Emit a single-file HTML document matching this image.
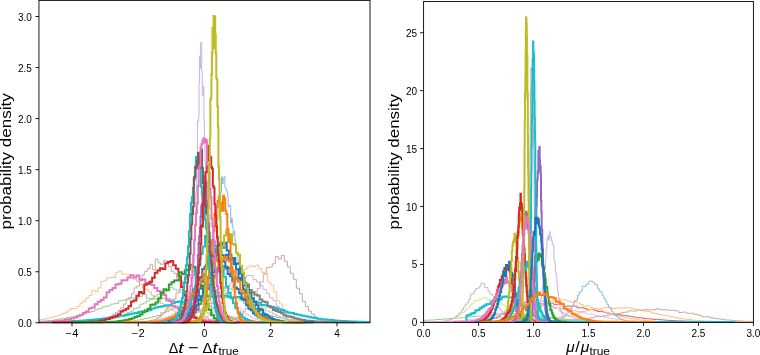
<!DOCTYPE html>
<html><head><meta charset="utf-8"><style>
html,body{margin:0;padding:0;background:#fff;width:760px;height:355px;overflow:hidden}
svg{display:block;will-change:transform}
.tk{font-family:"Liberation Sans",sans-serif;font-size:10px;fill:#000}
.lb{font-family:"Liberation Sans",sans-serif;font-size:14.5px;fill:#000}
</style></head><body>
<svg width="760" height="355" viewBox="0 0 760 355">
<rect width="760" height="355" fill="#fff"/>
<defs>
<clipPath id="cl"><rect x="38.95" y="0.40" width="331.05" height="327.40"/></clipPath>
<clipPath id="cr"><rect x="423.60" y="1.50" width="329.80" height="325.90"/></clipPath>
</defs>
<g clip-path="url(#cl)"><path d="M2.44 322.30V322.07H5.42V322.01H8.40V321.95H11.38V321.90H14.36V321.76H17.34V321.65H20.33V321.53H23.31V321.32H26.29V321.12H29.27V320.88H32.25V320.61H35.23V320.23H38.21V319.94H41.19V319.42H44.18V318.93H47.16V318.14H50.14V317.51H53.12V316.76H56.10V315.96H59.08V314.77H62.06V313.49H65.04V312.26H68.03V310.05H71.01V308.46H73.99V308.82H76.97V306.49H79.95V303.18H82.93V301.11H85.91V298.08H88.89V295.47H91.88V290.53H94.86V291.65H97.84V287.93H100.82V281.49H103.80V280.74H106.78V277.98H109.76V277.59H112.74V277.62H115.73V272.35H118.71V271.25H121.69V273.97H124.67V274.03H127.65V274.60H130.63V278.38H133.61V279.30H136.59V281.64H139.57V284.52H142.56V288.11H145.54V289.47H148.52V291.96H151.50V295.36H154.48V299.08H157.46V300.11H160.44V303.43H163.42V304.59H166.41V307.82H169.39V308.51H172.37V310.66H175.35V312.65H178.33V313.60H181.31V314.67H184.29V315.68H187.28V316.91H190.26V317.73H193.24V318.21H196.22V318.93H199.20V319.38H202.18V319.80H205.16V320.40H208.14V320.59H211.12V320.83H214.11V321.15H217.09V321.38H220.07V321.49H223.05V321.65H226.03V321.76H229.01V321.88H231.99V321.98H234.97V322.02H237.96V322.08H240.94V322.30" stroke="#ffbf86" stroke-width="1" fill="none" stroke-linejoin="miter"/>
<path d="M38.88 322.30V321.15H42.86V320.89H46.85V320.54H50.84V320.31H54.82V319.41H58.81V318.89H62.80V318.43H66.79V317.49H70.77V316.72H74.76V315.99H78.75V314.51H82.73V313.78H86.72V312.58H90.71V311.51H94.70V309.57H98.68V308.45H102.67V306.63H106.66V305.94H110.65V304.03H114.63V303.46H118.62V300.77H122.61V300.13H126.59V298.95H130.58V297.97H134.57V298.65H138.56V296.35H142.54V294.73H146.53V298.41H150.52V298.62H154.51V298.72H158.49V296.93H162.48V298.38H166.47V298.43H170.45V299.86H174.44V301.51H178.43V302.76H182.42V304.48H186.40V305.20H190.39V307.89H194.38V308.86H198.37V309.91H202.35V310.59H206.34V312.96H210.33V314.23H214.31V315.15H218.30V315.76H222.29V316.99H226.28V317.52H230.26V318.78H234.25V319.00H238.24V319.59H242.23V320.29H246.21V320.57H250.20V320.85H254.19V322.30" stroke="#96d096" stroke-width="1" fill="none" stroke-linejoin="miter"/>
<path d="M40.53 322.30H47.16V322.30H53.78V322.29H57.09V322.28H60.41V322.27H63.72V322.26H67.03V322.24H70.34V322.21H73.66V322.17H76.97V322.12H80.28V322.06H83.59V321.94H86.91V321.82H90.22V321.56H93.53V321.34H96.84V321.01H100.16V320.66H103.47V320.11H106.78V319.47H110.09V318.84H113.41V317.98H116.72V316.86H120.03V315.76H123.34V314.37H126.66V312.70H129.97V311.16H133.28V308.50H136.59V307.86H139.91V304.16H143.22V303.05H146.53V300.85H149.84V299.54H153.16V296.38H156.47V294.67H159.78V292.58H163.09V292.16H166.41V290.42H169.72V287.59H173.03V289.21H176.34V290.68H179.66V289.32H182.97V291.66H186.28V292.10H189.59V293.71H192.91V296.64H196.22V300.10H199.53V300.67H202.84V302.12H206.16V305.00H209.47V306.60H212.78V308.39H216.09V311.08H219.41V312.11H222.72V313.65H226.03V315.31H229.34V316.58H232.66V317.70H235.97V318.48H239.28V319.52H242.59V320.16H245.91V320.62H249.22V321.10H252.53V321.43H255.84V321.64H259.16V321.79H262.47V321.93H265.78V322.06H269.09V322.13H272.41V322.18H275.72V322.21H279.03V322.24H282.34V322.26H285.66V322.27H288.97V322.28H292.28V322.29H295.59V322.29H305.53V322.30H308.84V322.30" stroke="#96d096" stroke-width="1" fill="none" stroke-linejoin="miter"/>
<path d="M57.09 322.30H59.75V322.30H62.40V322.29H65.06V322.29H67.71V322.28H70.37V322.27H73.02V322.25H75.68V322.22H78.33V322.18H80.98V322.09H83.64V322.03H86.29V321.91H88.95V321.75H91.60V321.53H94.26V321.25H96.91V320.81H99.57V320.20H102.22V319.57H104.88V318.52H107.53V317.59H110.18V316.18H112.84V314.04H115.49V312.33H118.15V310.46H120.80V307.64H123.46V304.10H126.11V299.45H128.77V297.65H131.42V293.68H134.08V287.89H136.73V286.25H139.38V281.11H142.04V274.82H144.69V271.33H147.35V268.70H150.00V264.28H152.66V269.97H155.31V259.00H157.97V262.81H160.62V264.33H163.28V260.27H165.93V261.11H168.58V266.57H171.24V271.47H173.89V273.40H176.55V278.26H179.20V280.93H181.86V287.13H184.51V292.83H187.17V296.61H189.82V302.14H192.48V306.41H195.13V308.84H197.78V311.75H200.44V314.44H203.09V316.49H205.75V317.81H208.40V319.38H211.06V319.91H213.71V320.63H216.37V321.24H219.02V321.53H221.68V321.81H224.33V321.95H226.98V322.10H229.64V322.17H232.29V322.21H234.95V322.25H237.60V322.27H240.26V322.28H242.91V322.29H245.57V322.29H250.88V322.30" stroke="#c6aaa5" stroke-width="1" fill="none" stroke-linejoin="miter"/>
<path d="M115.06 322.30H121.64V322.29H128.22V322.29H131.50V322.28H134.79V322.27H138.08V322.25H141.37V322.23H144.66V322.18H147.94V322.13H151.23V322.04H154.52V321.95H157.81V321.80H161.10V321.66H164.38V321.29H167.67V321.14H170.96V320.55H174.25V320.11H177.54V319.51H180.83V318.68H184.11V317.69H187.40V316.26H190.69V314.94H193.98V312.70H197.27V312.12H200.55V309.15H203.84V307.30H207.13V303.56H210.42V303.09H213.71V298.70H216.99V295.11H220.28V294.07H223.57V288.00H226.86V286.20H230.15V282.29H233.44V279.96H236.72V281.27H240.01V279.53H243.30V277.51H246.59V275.33H249.88V275.44H253.16V279.69H256.45V282.01H259.74V285.68H263.03V289.37H266.32V293.33H269.61V297.75H272.89V300.36H276.18V306.43H279.47V309.86H282.76V312.60H286.05V315.56H289.33V317.36H292.62V318.80H295.91V319.86H299.20V320.82H302.49V321.24H305.77V321.68H309.06V321.92H312.35V322.07H315.64V322.17H318.93V322.22H322.22V322.26H325.50V322.28H328.79V322.29H332.08V322.29H338.66V322.30" stroke="#cab3de" stroke-width="1" fill="none" stroke-linejoin="miter"/>
<path d="M151.50 322.30H154.48V322.29H157.46V322.29H160.44V322.28H163.43V322.27H166.41V322.26H169.39V322.23H172.37V322.19H175.35V322.12H178.33V322.01H181.31V321.89H184.29V321.72H187.28V321.45H190.26V320.94H193.24V320.48H196.22V319.96H199.20V318.87H202.18V317.88H205.16V316.31H208.14V314.45H211.12V312.33H214.11V309.08H217.09V306.31H220.07V303.21H223.05V298.46H226.03V293.72H229.01V292.31H231.99V286.03H234.97V282.78H237.96V277.19H240.94V275.50H243.92V269.54H246.90V266.99H249.88V265.74H252.86V266.53H255.84V265.12H258.82V268.51H261.81V272.44H264.79V274.04H267.77V282.15H270.75V284.89H273.73V292.04H276.71V300.72H279.69V304.01H282.68V309.38H285.66V312.51H288.64V315.44H291.62V318.03H294.60V319.28H297.58V320.38H300.56V321.06H303.54V321.62H306.52V321.88H309.51V322.08H312.49V322.18H315.47V322.24H318.45V322.27H321.43V322.28H324.41V322.29H327.39V322.30H330.38V322.30" stroke="#ffbf86" stroke-width="1" fill="none" stroke-linejoin="miter"/>
<path d="M197.05 322.30H200.06V322.29H203.07V322.29H206.08V322.27H209.09V322.24H212.10V322.19H215.11V322.11H218.12V321.96H221.13V321.75H224.14V321.39H227.15V320.86H230.16V320.17H233.17V319.04H236.18V317.24H239.19V315.31H242.20V311.80H245.21V308.02H248.22V303.06H251.23V299.22H254.24V291.77H257.25V288.33H260.26V281.88H263.27V273.93H266.27V267.57H269.28V266.96H272.29V263.80H275.30V256.37H278.31V259.14H281.32V255.42H284.33V261.16H287.34V266.69H290.35V273.37H293.36V279.36H296.37V288.23H299.38V293.69H302.39V301.53H305.40V306.56H308.41V311.11H311.42V314.04H314.43V316.82H317.44V318.84H320.45V319.84H323.46V320.92H326.47V321.47H329.48V321.81H332.49V322.02H335.50V322.16H338.51V322.22H341.52V322.26H344.53V322.28H347.54V322.29H350.55V322.30H353.56V322.30" stroke="#c6aaa5" stroke-width="1" fill="none" stroke-linejoin="miter"/>
<path d="M193.24 322.30V321.67H194.07V321.48H194.90V321.29H195.73V321.05H196.56V320.70H197.40V320.33H198.23V319.74H199.06V318.95H199.89V318.45H200.72V317.58H201.55V316.25H202.39V314.96H203.22V313.48H204.05V312.08H204.88V309.56H205.71V306.62H206.54V305.13H207.37V301.21H208.21V298.94H209.04V294.24H209.87V290.40H210.70V282.83H211.53V278.79H212.36V269.34H213.20V262.42H214.03V255.65H214.86V254.61H215.69V240.34H216.52V229.95H217.35V220.43H218.19V218.81H219.02V205.81H219.85V200.54H220.68V192.86H221.51V176.92H222.34V183.82H223.18V179.48H224.01V176.30H224.84V187.37H225.67V188.27H226.50V191.13H227.33V195.83H228.17V206.88H229.00V205.59H229.83V205.10H230.66V223.01H231.49V218.38H232.32V226.77H233.15V234.89H233.99V231.13H234.82V240.67H235.65V251.72H236.48V252.89H237.31V256.38H238.14V262.91H238.98V265.33H239.81V271.18H240.64V273.77H241.47V276.30H242.30V283.45H243.13V285.42H243.97V289.48H244.80V291.64H245.63V295.86H246.46V297.67H247.29V299.62H248.12V300.87H248.96V302.77H249.79V306.36H250.62V307.65H251.45V308.36H252.28V311.10H253.11V311.61H253.95V312.62H254.78V313.20H255.61V314.38H256.44V315.55H257.27V316.33H258.10V316.99H258.93V317.27H259.77V318.20H260.60V318.67H261.43V319.02H262.26V319.48H263.09V319.84H263.92V320.23H264.76V320.41H265.59V320.68H266.42V320.80H267.25V321.02H268.08V321.22H268.91V321.34H269.75V321.50H270.58V321.57H271.41V321.70H272.24V322.30" stroke="#8fbbda" stroke-width="1" fill="none" stroke-linejoin="miter"/>
<path d="M181.81 322.30V322.29H182.35V322.28H182.89V322.26H183.42V322.23H183.96V322.20H184.50V322.12H185.04V322.02H185.58V321.82H186.12V321.56H186.65V321.15H187.19V320.61H187.73V319.88H188.27V318.65H188.81V316.94H189.35V315.36H189.88V312.16H190.42V308.80H190.96V303.05H191.50V298.99H192.04V291.23H192.57V281.33H193.11V270.72H193.65V262.93H194.19V243.33H194.73V228.84H195.27V211.86H195.80V192.74H196.34V170.93H196.88V164.62H197.42V120.83H197.96V121.15H198.50V117.24H199.03V83.30H199.57V56.36H200.11V68.41H200.65V42.61H201.19V42.55H201.73V71.98H202.26V95.79H202.80V94.36H203.34V86.34H203.88V120.78H204.42V144.08H204.96V161.36H205.49V172.24H206.03V192.07H206.57V206.90H207.11V224.68H207.65V247.36H208.19V259.16H208.72V273.56H209.26V281.80H209.80V292.29H210.34V299.34H210.88V302.55H211.41V308.75H211.95V312.15H212.49V314.45H213.03V317.09H213.57V318.79H214.11V319.87H214.64V320.71H215.18V321.16H215.72V321.59H216.26V321.80H216.80V322.01H217.34V322.12H217.87V322.19H218.41V322.23H218.95V322.26H219.49V322.27H220.03V322.29H220.57V322.30" stroke="#cab3de" stroke-width="1" fill="none" stroke-linejoin="miter"/>
<path d="M65.38 322.30H73.66V322.30H81.94V322.29H86.08V322.28H90.22V322.27H94.36V322.25H98.50V322.22H102.64V322.18H106.78V322.13H110.92V322.01H115.06V321.90H119.20V321.67H123.34V321.46H127.48V321.16H131.62V320.80H135.77V320.11H139.91V319.61H144.05V318.50H148.19V317.78H152.33V316.45H156.47V315.51H160.61V312.61H164.75V311.66H168.89V309.81H173.03V306.98H177.17V305.83H181.31V302.36H185.45V301.73H189.59V298.08H193.73V297.74H197.88V297.02H202.02V294.38H206.16V294.53H210.30V291.67H214.44V292.31H218.58V292.20H222.72V293.60H226.86V295.40H231.00V296.64H235.14V297.60H239.28V300.87H243.42V303.54H247.56V305.89H251.70V307.60H255.84V309.99H259.98V310.81H264.12V313.86H268.27V315.38H272.41V316.56H276.55V317.58H280.69V318.76H284.83V319.66H288.97V320.30H293.11V320.78H297.25V321.13H301.39V321.52H305.53V321.73H309.67V321.91H313.81V322.02H317.95V322.11H322.09V322.18H326.23V322.21H330.38V322.25H334.52V322.27H338.66V322.28H342.80V322.29H346.94V322.29H355.22V322.30H363.50V322.30" stroke="#96d096" stroke-width="1" fill="none" stroke-linejoin="miter"/>
<path d="M90.22 322.30H97.67V322.29H105.12V322.29H108.85V322.28H112.58V322.26H116.30V322.24H120.03V322.21H123.76V322.16H127.48V322.10H131.21V322.00H134.94V321.86H138.66V321.66H142.39V321.42H146.12V321.09H149.84V320.55H153.57V320.15H157.30V319.24H161.02V318.21H164.75V317.34H168.48V316.07H172.20V314.43H175.93V312.09H179.66V310.36H183.38V309.11H187.11V305.92H190.84V302.34H194.56V299.71H198.29V297.45H202.02V295.93H205.74V295.63H209.47V291.45H213.20V290.41H216.92V289.06H220.65V286.56H224.38V288.39H228.10V288.80H231.83V289.41H235.55V291.97H239.28V294.28H243.01V296.46H246.73V297.31H250.46V300.13H254.19V303.50H257.91V304.87H261.64V307.94H265.37V310.94H269.09V312.11H272.82V314.22H276.55V316.12H280.27V317.03H284.00V318.34H287.73V319.27H291.45V319.92H295.18V320.72H298.91V321.10H302.63V321.40H306.36V321.65H310.09V321.86H313.81V322.00H317.54V322.10H321.27V322.16H324.99V322.21H328.72V322.24H332.45V322.27H336.17V322.28H339.90V322.29H343.62V322.29H351.08V322.30H358.53V322.30" stroke="#bfbfbf" stroke-width="1" fill="none" stroke-linejoin="miter"/>
<path d="M121.69 322.30H126.66V322.29H131.62V322.28H134.11V322.27H136.59V322.25H139.08V322.23H141.56V322.19H144.05V322.15H146.53V322.04H149.02V321.93H151.50V321.75H153.98V321.54H156.47V321.24H158.95V320.78H161.44V320.19H163.92V319.57H166.41V318.68H168.89V317.41H171.38V316.41H173.86V315.05H176.34V312.54H178.83V310.84H181.31V309.19H183.80V305.99H186.28V302.96H188.77V300.69H191.25V298.12H193.73V293.58H196.22V289.67H198.70V288.56H201.19V287.12H203.67V283.72H206.16V281.97H208.64V282.96H211.12V281.61H213.61V281.46H216.09V284.62H218.58V287.22H221.06V287.76H223.55V290.49H226.03V292.36H228.52V297.91H231.00V300.21H233.48V303.25H235.97V306.61H238.45V308.03H240.94V310.28H243.42V312.98H245.91V314.15H248.39V315.99H250.88V317.42H253.36V318.59H255.84V319.44H258.33V320.36H260.81V320.77H263.30V321.20H265.78V321.59H268.27V321.76H270.75V321.94H273.23V322.04H275.72V322.14H278.20V322.19H280.69V322.23H283.17V322.26H285.66V322.27H288.14V322.28H290.62V322.29H293.11V322.29H300.56V322.30" stroke="#f1bbe0" stroke-width="1" fill="none" stroke-linejoin="miter"/>
<path d="M120.03 322.30H124.17V322.29H126.24V322.29H128.31V322.28H130.38V322.27H132.45V322.24H134.52V322.21H136.59V322.17H138.66V322.09H140.73V321.99H142.80V321.86H144.88V321.65H146.95V321.33H149.02V320.94H151.09V320.50H153.16V319.82H155.23V319.16H157.30V317.51H159.37V316.50H161.44V314.39H163.51V312.64H165.58V309.56H167.65V306.93H169.72V304.61H171.79V300.33H173.86V298.97H175.93V292.98H178.00V292.54H180.07V286.53H182.14V281.89H184.21V280.02H186.28V278.35H188.35V277.06H190.42V274.73H192.49V271.25H194.56V271.56H196.63V274.58H198.70V277.88H200.77V276.49H202.84V282.83H204.91V284.37H206.98V288.05H209.05V289.73H211.12V294.12H213.20V297.60H215.27V301.33H217.34V305.31H219.41V307.51H221.48V309.81H223.55V312.82H225.62V314.60H227.69V316.48H229.76V317.63H231.83V318.82H233.90V319.70H235.97V320.43H238.04V320.89H240.11V321.37H242.18V321.65H244.25V321.86H246.32V321.99H248.39V322.10H250.46V322.17H252.53V322.21H254.60V322.24H256.67V322.26H258.74V322.28H260.81V322.29H262.88V322.29H267.02V322.30H269.09V322.30" stroke="#ea9394" stroke-width="1" fill="none" stroke-linejoin="miter"/>
<path d="M38.88 322.30V322.04H42.19V321.98H45.50V321.92H48.81V321.86H52.12V321.79H55.44V321.71H58.75V321.62H62.06V321.51H65.38V321.39H68.69V321.21H72.00V321.08H75.31V320.89H78.62V320.72H81.94V320.52H85.25V320.28H88.56V320.00H91.88V319.63H95.19V319.33H98.50V319.00H101.81V318.60H105.12V318.27H108.44V317.58H111.75V317.33H115.06V316.67H118.38V315.85H121.69V315.86H125.00V315.08H128.31V314.32H131.62V313.48H134.94V313.09H138.25V312.05H141.56V311.22H144.88V310.35H148.19V310.17H151.50V308.53H154.81V307.38H158.12V306.83H161.44V306.32H164.75V305.42H168.06V305.30H171.38V303.32H174.69V302.08H178.00V301.60H181.31V302.36H184.62V300.55H187.94V299.72H191.25V299.26H194.56V297.96H197.88V298.79H201.19V297.84H204.50V296.79H207.81V296.27H211.12V296.46H214.44V295.84H217.75V296.03H221.06V296.86H224.38V295.75H227.69V296.91H231.00V297.82H234.31V297.22H237.62V297.10H240.94V298.17H244.25V298.89H247.56V300.07H250.88V302.07H254.19V301.67H257.50V302.85H260.81V304.89H264.12V305.18H267.44V306.29H270.75V306.73H274.06V308.06H277.38V309.05H280.69V310.09H284.00V311.43H287.31V312.48H290.62V312.98H293.94V313.91H297.25V314.68H300.56V315.47H303.88V316.23H307.19V316.78H310.50V317.44H313.81V318.08H317.12V318.68H320.44V319.18H323.75V319.52H327.06V319.82H330.38V320.11H333.69V320.47H337.00V320.70H340.31V320.92H343.62V321.10H346.94V321.33H350.25V321.46H353.56V321.62H356.88V321.75H360.19V321.85H363.50V321.91H366.81V321.98H370.12V322.30" stroke="#17becf" stroke-width="2" fill="none" stroke-linejoin="miter"/>
<path d="M8.23 322.30H14.20V322.29H17.18V322.29H20.16V322.29H23.14V322.28H26.12V322.27H29.10V322.25H32.08V322.23H35.07V322.20H38.05V322.15H41.03V322.09H44.01V322.03H46.99V321.92H49.97V321.70H52.95V321.51H55.93V321.18H58.92V320.87H61.90V320.57H64.88V319.84H67.86V319.21H70.84V318.43H73.82V317.63H76.80V316.29H79.78V314.95H82.77V312.99H85.75V311.43H88.73V308.61H91.71V307.62H94.69V304.35H97.67V301.63H100.65V300.04H103.63V297.59H106.62V292.27H109.60V289.90H112.58V288.00H115.56V284.58H118.54V283.87H121.52V280.36H124.50V280.14H127.48V277.53H130.47V275.33H133.45V277.48H136.43V275.58H139.41V279.71H142.39V279.60H145.37V283.03H148.35V282.96H151.33V285.05H154.32V288.05H157.30V290.90H160.28V291.90H163.26V294.88H166.24V300.36H169.22V301.08H172.20V305.89H175.18V307.60H178.17V309.52H181.15V311.43H184.13V313.68H187.11V315.12H190.09V316.28H193.07V317.61H196.05V318.56H199.03V319.21H202.02V319.87H205.00V320.50H207.98V320.93H210.96V321.27H213.94V321.55H216.92V321.75H219.90V321.91H222.88V322.00H225.87V322.09H228.85V322.15H231.83V322.20H234.81V322.23H237.79V322.25H240.77V322.27H243.75V322.28H246.73V322.29H249.72V322.29H255.68V322.30H261.64V322.30" stroke="#e377c2" stroke-width="2" fill="none" stroke-linejoin="miter"/>
<path d="M52.12 322.30H54.76V322.30H60.02V322.29H62.65V322.28H65.28V322.28H67.92V322.26H70.55V322.25H73.18V322.23H75.81V322.20H78.44V322.15H81.08V322.09H83.71V321.99H86.34V321.90H88.97V321.74H91.60V321.60H94.24V321.38H96.87V321.13H99.50V320.73H102.13V320.19H104.76V319.53H107.39V318.99H110.03V317.77H112.66V316.85H115.29V315.72H117.92V314.30H120.55V311.51H123.19V310.27H125.82V308.63H128.45V306.28H131.08V301.51H133.71V300.51H136.35V295.66H138.98V291.95H141.61V293.18H144.24V284.83H146.87V283.66H149.50V281.84H152.14V277.84H154.77V272.84H157.40V270.56H160.03V268.21H162.66V268.94H165.30V263.21H167.93V261.93H170.56V261.04H173.19V265.27H175.82V268.82H178.46V276.20H181.09V286.99H183.72V295.21H186.35V303.05H188.98V309.25H191.61V313.84H194.25V317.70H196.88V319.52H199.51V320.75H202.14V321.60H204.77V321.95H207.41V322.12H210.04V322.23H212.67V322.27H215.30V322.29H217.93V322.30H220.57V322.30" stroke="#d62728" stroke-width="2" fill="none" stroke-linejoin="miter"/>
<path d="M73.66 322.30H76.30V322.30H81.59V322.29H84.23V322.29H86.88V322.28H89.52V322.27H92.17V322.25H94.81V322.23H97.46V322.20H100.10V322.16H102.75V322.11H105.39V322.03H108.04V321.91H110.68V321.81H113.33V321.63H115.97V321.42H118.62V321.12H121.26V320.74H123.90V320.24H126.55V319.71H129.19V319.01H131.84V318.21H134.48V317.05H137.13V316.20H139.77V314.40H142.42V312.27H145.06V311.24H147.71V308.79H150.35V304.63H153.00V304.57H155.64V302.44H158.29V298.52H160.93V293.03H163.57V289.34H166.22V290.23H168.86V284.56H171.51V282.30H174.15V280.39H176.80V280.24H179.44V272.35H182.09V274.05H184.73V270.15H187.38V269.51H190.02V265.12H192.67V266.83H195.31V274.92H197.96V279.37H200.60V285.53H203.24V296.96H205.89V303.69H208.53V309.74H211.18V315.17H213.82V318.16H216.47V320.14H219.11V321.14H221.76V321.78H224.40V322.06H227.05V322.21H229.69V322.27H232.34V322.29H234.98V322.30H237.62V322.30" stroke="#2ca02c" stroke-width="2" fill="none" stroke-linejoin="miter"/>
<path d="M161.44 322.30V322.26H164.09V322.23H166.75V322.18H169.40V322.09H172.06V321.94H174.71V321.72H177.36V321.34H180.02V320.91H182.67V319.97H185.33V319.11H187.98V317.48H190.64V315.15H193.29V312.49H195.95V309.74H198.60V304.09H201.26V300.18H203.91V296.13H206.56V289.21H209.22V284.65H211.87V276.97H214.53V275.60H217.18V268.50H219.84V271.97H222.49V266.14H225.15V268.80H227.80V267.85H230.46V273.69H233.11V278.20H235.76V278.83H238.42V279.06H241.07V277.87H243.73V282.79H246.38V284.41H249.04V290.11H251.69V292.22H254.35V294.51H257.00V295.44H259.66V299.57H262.31V301.59H264.96V302.29H267.62V306.13H270.27V307.45H272.93V309.88H275.58V310.88H278.24V311.90H280.89V313.13H283.55V315.15H286.20V316.44H288.86V316.59H291.51V317.22H294.16V318.37H296.82V318.85H299.47V319.43H302.13V320.11H304.78V320.51H307.44V320.65H310.09V320.91H312.75V321.25H315.40V321.39H318.06V321.58H320.71V321.72H323.36V321.84H326.02V321.89H328.67V321.99H331.33V322.05H333.98V322.11H336.64V322.14H339.29V322.18H341.95V322.20H344.60V322.23H347.26V322.24H349.91V322.26H352.56V322.26H355.22V322.30" stroke="#7f7f7f" stroke-width="2" fill="none" stroke-linejoin="miter"/>
<path d="M152.33 322.30V322.30H154.65V322.29H156.98V322.28H159.31V322.27H161.63V322.24H163.96V322.19H166.29V322.11H168.61V322.00H170.94V321.74H173.26V321.41H175.59V321.00H177.92V320.28H180.24V319.13H182.57V317.85H184.90V315.79H187.22V312.83H189.55V309.36H191.87V306.17H194.20V301.24H196.53V295.64H198.85V288.52H201.18V281.27H203.51V274.74H205.83V264.88H208.16V259.52H210.49V253.48H212.81V254.40H215.14V249.50H217.46V245.83H219.79V242.66H222.12V247.80H224.44V242.87H226.77V250.50H229.10V254.46H231.42V259.75H233.75V264.31H236.07V269.21H238.40V277.88H240.73V280.10H243.05V289.15H245.38V292.65H247.71V298.20H250.03V302.40H252.36V305.58H254.68V309.16H257.01V311.35H259.34V314.47H261.66V316.05H263.99V317.57H266.32V318.57H268.64V319.61H270.97V320.43H273.29V320.91H275.62V321.36H277.95V321.69H280.27V321.87H282.60V322.00H284.93V322.11H287.25V322.17H289.58V322.22H291.90V322.25H294.23V322.27H296.56V322.28H298.88V322.29H301.21V322.29H305.86V322.30" stroke="#1f77b4" stroke-width="2" fill="none" stroke-linejoin="miter"/>
<path d="M149.84 322.30H152.15V322.29H154.46V322.29H156.77V322.28H159.08V322.26H161.39V322.24H163.70V322.19H166.01V322.13H168.32V322.00H170.63V321.84H172.94V321.62H175.25V321.24H177.56V320.69H179.87V320.05H182.18V319.28H184.49V317.89H186.79V316.34H189.10V314.66H191.41V312.41H193.72V308.27H196.03V305.34H198.34V299.89H200.65V296.25H202.96V289.04H205.27V283.11H207.58V278.03H209.89V275.40H212.20V272.18H214.51V257.92H216.82V259.24H219.13V250.83H221.44V255.23H223.75V257.43H226.05V254.87H228.36V259.69H230.67V258.70H232.98V257.96H235.29V263.63H237.60V263.38H239.91V273.72H242.22V278.57H244.53V285.35H246.84V289.94H249.15V292.90H251.46V298.36H253.77V301.66H256.08V305.14H258.39V308.72H260.70V309.71H263.01V313.83H265.31V315.03H267.62V316.46H269.93V317.80H272.24V319.10H274.55V319.98H276.86V320.34H279.17V320.89H281.48V321.37H283.79V321.64H286.10V321.84H288.41V322.00H290.72V322.09H293.03V322.15H295.34V322.20H297.65V322.24H299.96V322.26H302.27V322.28H304.57V322.29H306.88V322.29H311.50V322.30H313.81V322.30" stroke="#1f77b4" stroke-width="2" fill="none" stroke-linejoin="miter"/>
<path d="M139.91 322.30H142.22V322.29H144.53V322.29H146.83V322.28H149.14V322.26H151.45V322.24H153.76V322.21H156.07V322.14H158.38V322.02H160.69V321.85H163.00V321.68H165.31V321.26H167.62V320.76H169.93V320.15H172.24V319.40H174.55V318.12H176.86V316.50H179.17V314.16H181.48V311.46H183.79V309.29H186.09V305.18H188.40V300.93H190.71V296.35H193.02V289.82H195.33V285.94H197.64V280.08H199.95V277.31H202.26V269.00H204.57V266.88H206.88V256.31H209.19V257.78H211.50V256.07H213.81V255.94H216.12V259.91H218.43V259.46H220.74V260.39H223.05V261.55H225.35V266.83H227.66V274.10H229.97V276.22H232.28V280.66H234.59V287.59H236.90V288.96H239.21V293.20H241.52V299.08H243.83V300.23H246.14V305.22H248.45V308.80H250.76V310.25H253.07V313.59H255.38V315.24H257.69V317.24H260.00V318.31H262.31V318.92H264.61V320.04H266.92V320.63H269.23V321.06H271.54V321.43H273.85V321.70H276.16V321.87H278.47V322.00H280.78V322.08H283.09V322.16H285.40V322.20H287.71V322.24H290.02V322.26H292.33V322.28H294.64V322.28H296.95V322.29H299.26V322.29H303.88V322.30" stroke="#1f77b4" stroke-width="2" fill="none" stroke-linejoin="miter"/>
<path d="M163.09 322.30V322.29H165.42V322.28H167.75V322.26H170.08V322.20H172.41V322.06H174.74V321.80H177.07V321.25H179.40V320.28H181.73V318.71H184.06V315.73H186.38V311.17H188.71V305.24H191.04V297.64H193.37V288.59H195.70V272.08H198.03V264.77H200.36V253.74H202.69V246.59H205.02V235.88H207.35V235.52H209.68V240.12H212.00V241.78H214.33V245.97H216.66V254.38H218.99V263.42H221.32V269.62H223.65V276.78H225.98V286.45H228.31V292.91H230.64V298.05H232.97V303.33H235.30V308.23H237.62V312.21H239.95V314.84H242.28V317.42H244.61V318.94H246.94V320.08H249.27V320.80H251.60V321.41H253.93V321.75H256.26V321.94H258.59V322.10H260.92V322.19H263.25V322.23H265.57V322.26H267.90V322.28H270.23V322.29H272.56V322.30H274.89V322.30" stroke="#17becf" stroke-width="2" fill="none" stroke-linejoin="miter"/>
<path d="M124.17 322.30H126.49V322.29H131.14V322.29H133.46V322.28H135.79V322.27H138.11V322.25H140.43V322.23H142.76V322.19H145.08V322.15H147.40V322.07H149.73V321.98H152.05V321.83H154.37V321.70H156.69V321.36H159.02V321.14H161.34V320.73H163.66V320.12H165.99V319.20H168.31V318.62H170.63V317.51H172.96V316.80H175.28V314.42H177.60V312.97H179.93V310.37H182.25V307.21H184.57V306.49H186.89V302.47H189.22V297.57H191.54V293.43H193.86V290.50H196.19V288.21H198.51V283.85H200.83V279.64H203.16V273.77H205.48V269.26H207.80V266.32H210.12V263.22H212.45V260.11H214.77V261.03H217.09V257.68H219.42V262.45H221.74V259.72H224.06V256.96H226.39V260.01H228.71V261.42H231.03V271.74H233.36V271.21H235.68V279.44H238.00V281.48H240.32V290.39H242.65V293.36H244.97V297.42H247.29V302.70H249.62V305.81H251.94V307.36H254.26V310.86H256.59V313.60H258.91V315.83H261.23V317.43H263.55V318.68H265.88V319.33H268.20V320.32H270.52V320.89H272.85V321.36H275.17V321.64H277.49V321.85H279.82V322.01H282.14V322.11H284.46V322.18H286.79V322.22H289.11V322.25H291.43V322.27H293.75V322.28H296.08V322.29H298.40V322.29H303.05V322.30" stroke="#ff7f0e" stroke-width="2" fill="none" stroke-linejoin="miter"/>
<path d="M176.18 322.30V322.29H178.17V322.29H180.17V322.28H182.17V322.26H184.16V322.21H186.16V322.14H188.16V322.01H190.15V321.76H192.15V321.43H194.15V320.90H196.14V319.97H198.14V318.76H200.13V317.06H202.13V314.01H204.13V310.15H206.12V307.11H208.12V299.83H210.12V292.55H212.11V284.56H214.11V278.35H216.11V267.45H218.10V258.11H220.10V247.93H222.09V246.21H224.09V235.53H226.09V230.41H228.08V241.65H230.08V234.47H232.08V243.96H234.07V244.66H236.07V252.64H238.07V254.92H240.06V266.05H242.06V272.75H244.05V283.81H246.05V288.85H248.05V294.55H250.04V302.37H252.04V306.21H254.04V310.37H256.03V313.78H258.03V316.51H260.03V318.00H262.02V319.43H264.02V320.32H266.01V321.00H268.01V321.45H270.01V321.82H272.00V321.99H274.00V322.11H276.00V322.19H277.99V322.24H279.99V322.27H281.99V322.28H283.98V322.29H285.98V322.30H287.98V322.30" stroke="#bcbd22" stroke-width="2" fill="none" stroke-linejoin="miter"/>
<path d="M177.01 322.30H188.78V322.29H189.85V322.28H190.92V322.27H191.99V322.23H193.06V322.16H194.13V322.04H195.20V321.83H196.27V321.44H197.34V320.86H198.41V319.95H199.48V318.57H200.55V316.18H201.62V314.15H202.69V310.73H203.76V307.74H204.83V302.24H205.90V291.64H206.97V282.39H208.04V276.81H209.11V268.29H210.18V256.74H211.25V254.15H212.32V240.10H213.39V230.68H214.46V213.96H215.53V218.34H216.60V206.86H217.67V201.04H218.74V196.60H219.81V202.51H220.88V203.35H221.95V210.76H223.02V195.70H224.09V198.36H225.16V210.75H226.24V214.04H227.31V228.91H228.38V234.04H229.45V242.02H230.52V257.13H231.59V267.22H232.66V276.37H233.73V287.41H234.80V297.44H235.87V302.74H236.94V308.63H238.01V313.44H239.08V316.70H240.15V318.84H241.22V320.25H242.29V321.24H243.36V321.67H244.43V322.00H245.50V322.15H246.57V322.23H247.64V322.27H248.71V322.29H249.78V322.29H251.92V322.30H260.48V322.30" stroke="#ff7f0e" stroke-width="2" fill="none" stroke-linejoin="miter"/>
<path d="M180.65 322.30V322.29H181.31V322.29H181.97V322.28H182.64V322.26H183.30V322.24H183.96V322.20H184.62V322.15H185.29V322.05H185.95V321.93H186.61V321.71H187.28V321.45H187.94V321.02H188.60V320.44H189.26V319.67H189.93V318.51H190.59V317.10H191.25V314.94H191.91V312.18H192.57V309.85H193.24V306.12H193.90V301.03H194.56V297.60H195.22V288.97H195.89V282.80H196.55V275.24H197.21V268.16H197.88V255.35H198.54V242.95H199.20V236.04H199.86V227.58H200.53V216.77H201.19V206.27H201.85V203.79H202.51V194.85H203.18V193.72H203.84V186.51H204.50V176.30H205.16V187.05H205.82V181.70H206.49V201.48H207.15V210.87H207.81V215.56H208.47V223.66H209.14V232.86H209.80V243.33H210.46V255.59H211.12V262.46H211.79V273.81H212.45V280.83H213.11V288.78H213.78V295.58H214.44V301.19H215.10V306.47H215.76V309.53H216.43V312.65H217.09V315.42H217.75V316.65H218.41V318.58H219.07V319.81H219.74V320.59H220.40V321.09H221.06V321.52H221.72V321.72H222.39V321.94H223.05V322.06H223.71V322.16H224.38V322.20H225.04V322.24H225.70V322.26H226.36V322.28H227.03V322.29H227.69V322.29H228.35V322.30" stroke="#9467bd" stroke-width="2" fill="none" stroke-linejoin="miter"/>
<path d="M162.10 322.30V322.29H163.09V322.28H164.09V322.27H165.08V322.26H166.07V322.23H167.07V322.19H168.06V322.11H169.06V322.01H170.05V321.84H171.04V321.65H172.04V321.22H173.03V320.74H174.03V320.18H175.02V319.11H176.01V317.84H177.01V316.64H178.00V313.78H178.99V311.37H179.99V307.62H180.98V303.43H181.97V297.89H182.97V290.82H183.96V283.08H184.96V277.42H185.95V265.18H186.94V257.42H187.94V246.21H188.93V231.31H189.93V214.17H190.92V202.72H191.91V197.30H192.91V187.73H193.90V179.74H194.89V166.90H195.89V156.90H196.88V160.25H197.88V155.88H198.87V160.86H199.86V158.48H200.86V186.69H201.85V195.60H202.84V195.22H203.84V202.69H204.83V219.46H205.82V228.46H206.82V245.90H207.81V257.19H208.81V266.22H209.80V272.82H210.79V282.14H211.79V291.80H212.78V297.29H213.78V303.46H214.77V307.46H215.76V311.61H216.76V314.00H217.75V316.39H218.74V317.92H219.74V319.27H220.73V320.20H221.72V320.80H222.72V321.30H223.71V321.63H224.71V321.87H225.70V322.01H226.69V322.12H227.69V322.18H228.68V322.23H229.68V322.26H230.67V322.27H231.66V322.28H232.66V322.29H233.65V322.30" stroke="#17becf" stroke-width="2" fill="none" stroke-linejoin="miter"/>
<path d="M169.06 322.30V322.29H169.88V322.28H170.71V322.27H171.53V322.26H172.36V322.23H173.19V322.19H174.01V322.10H174.84V322.01H175.67V321.89H176.49V321.65H177.32V321.30H178.14V320.77H178.97V319.99H179.80V319.12H180.62V317.95H181.45V316.03H182.27V313.97H183.10V310.91H183.93V307.71H184.75V303.70H185.58V295.91H186.40V290.97H187.23V282.60H188.06V275.04H188.88V265.13H189.71V253.85H190.54V238.94H191.36V224.19H192.19V213.91H193.01V206.48H193.84V177.53H194.67V176.64H195.49V166.46H196.32V168.19H197.14V161.13H197.97V152.74H198.80V168.00H199.62V162.94H200.45V158.13H201.28V149.75H202.10V167.98H202.93V183.27H203.75V191.63H204.58V188.36H205.41V206.35H206.23V213.41H207.06V213.60H207.88V230.93H208.71V241.77H209.54V252.03H210.36V255.10H211.19V263.73H212.01V275.54H212.84V283.49H213.67V287.58H214.49V291.37H215.32V297.45H216.15V303.14H216.97V305.62H217.80V308.56H218.62V311.62H219.45V313.74H220.28V315.60H221.10V317.17H221.93V318.36H222.75V319.37H223.58V320.06H224.41V320.65H225.23V320.96H226.06V321.31H226.89V321.58H227.71V321.77H228.54V321.93H229.36V322.04H230.19V322.11H231.02V322.17H231.84V322.21H232.67V322.24H233.49V322.26H234.32V322.27H235.15V322.28H235.97V322.29H236.80V322.29H237.62V322.30" stroke="#8c564b" stroke-width="2" fill="none" stroke-linejoin="miter"/>
<path d="M178.17 322.30V322.29H178.99V322.29H179.82V322.27H180.64V322.26H181.47V322.24H182.30V322.19H183.12V322.14H183.95V322.05H184.77V321.89H185.60V321.73H186.42V321.49H187.25V321.10H188.08V320.45H188.90V319.93H189.73V318.73H190.55V317.35H191.38V315.97H192.21V313.33H193.03V310.24H193.86V307.37H194.68V302.86H195.51V296.59H196.34V292.45H197.16V284.83H197.99V273.25H198.81V265.43H199.64V259.07H200.46V244.11H201.29V225.46H202.12V226.59H202.94V204.70H203.77V192.97H204.59V186.85H205.42V172.59H206.25V172.02H207.07V151.47H207.90V145.67H208.72V160.81H209.55V156.62H210.38V157.16H211.20V167.27H212.03V168.63H212.85V186.01H213.68V187.91H214.50V204.25H215.33V215.50H216.16V226.17H216.98V237.35H217.81V255.04H218.63V261.52H219.46V271.76H220.29V282.65H221.11V288.34H221.94V297.77H222.76V303.03H223.59V306.96H224.42V311.21H225.24V313.35H226.07V316.05H226.89V317.52H227.72V319.26H228.54V320.17H229.37V320.70H230.20V321.31H231.02V321.58H231.85V321.86H232.67V322.01H233.50V322.11H234.33V322.18H235.15V322.23H235.98V322.26H236.80V322.27H237.63V322.28H238.46V322.29H239.28V322.30" stroke="#d62728" stroke-width="2" fill="none" stroke-linejoin="miter"/>
<path d="M171.38 322.30V322.29H172.29V322.28H173.20V322.27H174.11V322.25H175.02V322.22H175.93V322.17H176.84V322.09H177.75V321.97H178.66V321.78H179.57V321.54H180.48V321.10H181.40V320.53H182.31V319.79H183.22V318.80H184.13V317.39H185.04V315.52H185.95V312.54H186.86V309.49H187.77V304.48H188.68V300.64H189.59V292.63H190.50V285.81H191.42V277.97H192.33V264.40H193.24V254.86H194.15V240.18H195.06V225.17H195.97V213.06H196.88V203.28H197.79V185.88H198.70V167.60H199.61V165.50H200.53V147.38H201.44V144.31H202.35V140.78H203.26V138.52H204.17V142.43H205.08V139.17H205.99V140.19H206.90V164.66H207.81V164.06H208.72V172.34H209.63V189.04H210.55V197.34H211.46V218.65H212.37V226.63H213.28V240.17H214.19V254.26H215.10V268.40H216.01V273.79H216.92V286.24H217.83V292.91H218.74V300.73H219.65V305.58H220.57V309.12H221.48V313.18H222.39V315.12H223.30V316.86H224.21V318.90H225.12V319.81H226.03V320.51H226.94V321.15H227.85V321.50H228.76V321.79H229.68V321.99H230.59V322.11H231.50V322.17H232.41V322.22H233.32V322.25H234.23V322.27H235.14V322.28H236.05V322.29H236.96V322.30" stroke="#e377c2" stroke-width="2" fill="none" stroke-linejoin="miter"/>
<path d="M194.73 322.30V322.29H195.27V322.27H195.80V322.25H196.34V322.22H196.88V322.17H197.42V322.10H197.96V322.00H198.50V321.79H199.03V321.50H199.57V321.08H200.11V320.54H200.65V319.86H201.19V318.11H201.73V316.76H202.26V314.34H202.80V311.72H203.34V307.96H203.88V301.83H204.42V294.85H204.96V289.11H205.49V279.01H206.03V267.89H206.57V255.67H207.11V239.78H207.65V219.83H208.19V208.57H208.72V167.09H209.26V167.20H209.80V138.80H210.34V99.49H210.88V97.72H211.41V74.87H211.95V52.82H212.49V28.04H213.03V48.25H213.57V16.00H214.11V46.39H214.64V16.44H215.18V34.17H215.72V53.55H216.26V78.34H216.80V79.30H217.34V106.56H217.87V126.29H218.41V166.29H218.95V179.21H219.49V198.35H220.03V216.81H220.57V242.52H221.10V257.11H221.64V265.12H222.18V278.69H222.72V287.47H223.26V297.03H223.80V302.24H224.33V307.99H224.87V311.96H225.41V314.85H225.95V316.68H226.49V318.69H227.03V319.83H227.56V320.56H228.10V321.09H228.64V321.49H229.18V321.78H229.72V321.97H230.25V322.10H230.79V322.18H231.33V322.22H231.87V322.26H232.41V322.27H232.95V322.29H233.48V322.30" stroke="#bcbd22" stroke-width="2" fill="none" stroke-linejoin="miter"/></g>
<g clip-path="url(#cr)"><path d="M423.60 321.90V320.34H425.80V320.27H428.01V320.01H430.21V320.05H432.42V319.99H434.62V319.66H436.83V319.50H439.03V319.53H441.23V319.35H443.44V318.83H445.64V319.10H447.85V318.87H450.05V318.48H452.26V318.36H454.46V318.04H456.66V317.96H458.87V317.95H461.07V317.66H463.28V317.57H465.48V317.11H467.69V316.95H469.89V317.07H472.10V316.50H474.30V316.55H476.50V316.12H478.71V316.00H480.91V315.60H483.12V316.11H485.32V315.08H487.53V315.37H489.73V314.41H491.93V314.87H494.14V314.46H496.34V314.32H498.55V313.82H500.75V313.37H502.96V313.48H505.16V313.41H507.36V313.22H509.57V313.23H511.77V313.21H513.98V313.63H518.39V313.36H520.59V313.76H522.79V314.91H525.00V314.77H527.20V314.97H529.41V315.49H531.61V315.84H533.82V316.02H536.02V316.11H538.22V316.43H540.43V316.96H542.63V317.12H544.84V317.58H547.04V317.79H549.25V318.16H551.45V318.61H553.66V318.73H555.86V318.84H558.06V318.98H560.27V319.29H562.47V319.33H564.68V319.64H566.88V319.89H569.09V320.10H571.29V320.07H573.49V320.38H575.70V320.56H577.90V320.60H580.11V320.77H582.31V320.82H584.52V321.00H588.92V321.09H591.13V321.20H593.33V321.29H595.54V321.32H597.74V321.36H599.95V321.45H602.15V321.49H604.35V321.51H606.56V321.56H608.76V321.61H610.97V321.63H613.17V321.66H615.38V321.69H617.58V321.72H619.78V321.75H624.19V321.77H626.40V321.78H628.60V321.80H630.81V321.80H633.01V321.82H635.22V321.90" stroke="#96d096" stroke-width="1" fill="none" stroke-linejoin="miter"/>
<path d="M404.36 321.90H422.03V321.90H428.65V321.89H430.86V321.88H435.28V321.87H437.49V321.87H439.70V321.86H441.91V321.85H444.11V321.83H446.32V321.81H448.53V321.77H450.74V321.76H452.95V321.72H455.16V321.68H457.36V321.65H459.57V321.56H461.78V321.51H463.99V321.40H466.20V321.31H468.41V321.20H470.61V321.12H472.82V320.97H475.03V320.80H477.24V320.60H479.45V320.40H481.66V320.11H483.87V319.99H486.07V319.68H488.28V319.30H490.49V319.19H492.70V318.60H494.91V318.56H497.12V318.16H499.32V317.99H501.53V317.46H503.74V317.11H505.95V316.88H508.16V317.03H510.37V316.36H512.57V316.32H514.78V316.00H516.99V316.23H519.20V315.72H521.41V315.30H523.62V315.33H525.83V315.23H528.03V314.97H530.24V314.95H532.45V315.21H534.66V315.29H536.87V315.43H539.08V316.19H541.28V316.65H543.49V316.62H545.70V316.52H547.91V316.75H550.12V317.56H552.33V317.40H554.53V317.65H556.74V318.36H558.95V318.61H561.16V318.89H563.37V319.10H565.58V319.46H567.78V319.74H569.99V320.04H572.20V320.32H574.41V320.38H576.62V320.64H578.83V320.82H581.04V320.98H583.24V321.13H585.45V321.21H587.66V321.34H589.87V321.44H592.08V321.49H594.29V321.56H596.49V321.62H598.70V321.69H600.91V321.72H603.12V321.75H605.33V321.79H607.54V321.81H609.74V321.83H611.95V321.84H614.16V321.86H616.37V321.87H618.58V321.87H620.79V321.88H623.00V321.89H627.41V321.89H634.04V321.90H651.70V321.90" stroke="#96d096" stroke-width="1" fill="none" stroke-linejoin="miter"/>
<path d="M414.81 321.90H420.74V321.89H424.70V321.88H426.68V321.87H428.66V321.85H430.64V321.83H432.61V321.79H434.59V321.73H436.57V321.65H438.55V321.54H440.53V321.36H442.51V321.15H444.49V320.91H446.47V320.48H448.44V320.09H450.42V319.32H452.40V318.66H454.38V317.77H456.36V316.80H458.34V315.09H460.32V314.03H462.30V312.56H464.27V310.85H466.25V308.61H468.23V306.84H470.21V304.96H472.19V303.18H474.17V300.19H476.15V300.89H478.13V299.91H480.10V299.45H482.08V297.73H484.06V297.22H486.04V298.55H488.02V299.53H490.00V299.96H491.98V299.24H493.96V299.91H495.93V300.94H497.91V302.84H499.89V303.17H501.87V304.34H503.85V305.42H505.83V306.19H507.81V307.76H509.79V308.71H511.76V310.17H513.74V311.20H515.72V312.16H517.70V313.91H519.68V314.48H521.66V315.41H523.64V316.26H525.62V316.92H527.59V317.30H529.57V318.31H531.55V318.61H533.53V319.40H535.51V319.68H537.49V320.01H539.47V320.30H541.44V320.58H543.42V320.82H545.40V321.06H547.38V321.22H549.36V321.33H551.34V321.46H553.32V321.57H555.30V321.64H557.27V321.69H559.25V321.73H561.23V321.77H563.21V321.80H565.19V321.83H567.17V321.84H569.15V321.86H571.13V321.87H573.10V321.88H575.08V321.88H577.06V321.89H581.02V321.89H588.93V321.90H592.89V321.90" stroke="#dede90" stroke-width="1" fill="none" stroke-linejoin="miter"/>
<path d="M421.13 321.90H424.65V321.89H426.41V321.89H428.17V321.88H429.93V321.87H431.69V321.86H433.46V321.83H435.22V321.80H436.98V321.74H438.74V321.65H440.50V321.51H442.26V321.33H444.02V321.13H445.79V320.81H447.55V320.23H449.31V319.70H451.07V319.13H452.83V318.14H454.59V317.05H456.35V315.54H458.12V313.65H459.88V312.12H461.64V309.66H463.40V307.09H465.16V304.27H466.92V302.55H468.68V299.42H470.45V294.40H472.21V293.93H473.97V291.21H475.73V288.53H477.49V288.19H479.25V286.73H481.01V283.08H482.77V283.58H484.54V287.73H486.30V287.47H488.06V291.27H489.82V293.99H491.58V295.10H493.34V296.81H495.10V301.54H496.87V303.60H498.63V308.20H500.39V310.24H502.15V312.66H503.91V314.72H505.67V316.24H507.43V317.76H509.20V319.01H510.96V319.91H512.72V320.46H514.48V320.89H516.24V321.24H518.00V321.48H519.76V321.64H521.53V321.72H523.29V321.79H525.05V321.84H526.81V321.86H528.57V321.88H530.33V321.89H532.09V321.89H535.62V321.90H537.38V321.90" stroke="#bfbfbf" stroke-width="1" fill="none" stroke-linejoin="miter"/>
<path d="M434.59 321.90H444.53V321.89H447.84V321.89H451.16V321.88H454.47V321.86H457.78V321.83H461.09V321.79H464.41V321.71H467.72V321.62H471.03V321.46H474.34V321.29H477.66V321.06H480.97V320.61H484.28V320.07H487.59V319.28H490.91V318.59H494.22V317.48H497.53V316.26H500.85V314.39H504.16V313.19H507.47V311.71H510.78V309.80H514.10V307.96H517.41V305.93H520.72V305.53H524.03V302.76H527.35V302.43H530.66V302.31H533.97V302.20H537.28V302.96H540.60V304.00H543.91V303.54H547.22V303.94H550.53V302.99H553.85V304.70H557.16V304.23H560.47V304.50H563.79V306.39H567.10V306.03H570.41V306.26H573.72V306.08H577.04V307.87H580.35V307.69H583.66V308.51H586.97V309.77H590.29V309.53H593.60V310.29H596.91V311.46H600.22V311.65H603.54V312.32H606.85V313.29H610.16V314.11H613.47V314.16H616.79V314.68H620.10V315.14H623.41V315.61H626.73V316.00H630.04V316.65H633.35V317.22H636.66V317.72H639.98V317.78H643.29V318.51H646.60V318.79H649.91V319.00H653.23V319.45H656.54V319.35H659.85V319.77H663.16V320.10H666.48V320.35H669.79V320.52H673.10V320.65H676.41V320.85H679.73V320.91H683.04V321.02H686.35V321.21H689.66V321.27H692.98V321.33H696.29V321.46H699.60V321.48H702.92V321.56H706.23V321.64H709.54V321.65H712.85V321.70H716.17V321.71H719.48V321.75H722.79V321.78H726.10V321.79H729.42V321.80H732.73V321.83H736.04V321.84H739.35V321.84H742.67V321.85H745.98V321.86H749.29V321.87H752.60V321.88H755.92V321.88H762.54V321.89H769.17V321.89H782.42V321.90H805.61V321.90" stroke="#e05d5e" stroke-width="1" fill="none" stroke-linejoin="miter"/>
<path d="M371.38 321.90H387.87V321.90H394.47V321.89H401.06V321.88H404.36V321.88H407.66V321.87H410.96V321.86H414.26V321.84H417.55V321.82H420.85V321.80H424.15V321.76H427.45V321.73H430.75V321.68H434.04V321.60H437.34V321.52H440.64V321.43H443.94V321.31H447.23V321.15H450.53V321.02H453.83V320.80H457.13V320.63H460.43V320.42H463.72V320.18H467.02V319.52H470.32V319.19H473.62V318.87H476.92V318.39H480.21V317.84H483.51V317.37H486.81V316.68H490.11V315.90H493.41V314.77H496.70V314.19H500.00V314.02H503.30V312.26H506.60V311.53H509.90V311.00H513.19V310.26H516.49V309.30H519.79V308.76H523.09V308.61H526.38V306.58H529.68V306.62H532.98V306.53H536.28V306.99H539.58V307.00H542.87V305.68H546.17V306.12H549.47V306.16H552.77V307.39H556.07V307.12H559.36V308.32H562.66V308.43H565.96V308.86H569.26V308.85H572.56V310.62H575.85V311.55H579.15V311.65H582.45V312.41H585.75V314.00H589.04V314.11H592.34V314.75H595.64V315.87H598.94V316.45H602.24V316.98H605.53V317.63H608.83V318.31H612.13V318.84H615.43V319.23H618.73V319.61H622.02V320.03H625.32V320.37H628.62V320.56H631.92V320.79H635.22V320.99H638.51V321.20H641.81V321.29H645.11V321.40H648.41V321.55H651.70V321.61H655.00V321.67H658.30V321.74H661.60V321.77H664.90V321.80H668.19V321.82H671.49V321.84H674.79V321.86H678.09V321.87H681.39V321.88H684.68V321.88H687.98V321.89H694.58V321.89H704.47V321.90H717.66V321.90" stroke="#f1bbe0" stroke-width="1" fill="none" stroke-linejoin="miter"/>
<path d="M459.88 321.90H482.93V321.89H490.61V321.89H498.29V321.88H502.14V321.87H505.98V321.86H509.82V321.85H513.66V321.83H517.50V321.81H521.34V321.79H525.19V321.75H529.03V321.70H532.87V321.64H536.71V321.57H540.55V321.51H544.39V321.40H548.24V321.25H552.08V321.18H555.92V320.92H559.76V320.78H563.60V320.53H567.44V320.13H571.29V319.92H575.13V319.59H578.97V319.14H582.81V318.74H586.65V318.34H590.49V317.69H594.34V316.76H598.18V316.38H602.02V315.84H605.86V315.23H609.70V314.41H613.55V313.78H617.39V313.61H621.23V312.48H625.07V312.03H628.91V310.75H632.75V311.03H636.60V309.89H640.44V310.61H644.28V309.59H648.12V309.86H651.96V309.81H655.80V308.92H659.65V309.88H663.49V309.66H667.33V310.27H671.17V310.21H675.01V310.84H678.85V312.50H682.70V312.07H686.54V313.32H690.38V313.26H694.22V314.46H698.06V315.27H701.90V316.81H705.75V316.67H709.59V317.69H713.43V318.52H717.27V318.86H721.11V319.28H724.95V319.98H728.80V320.16H732.64V320.58H736.48V320.86H740.32V321.08H744.16V321.27H748.00V321.40H751.85V321.52H755.69V321.60H759.53V321.68H763.37V321.75H767.21V321.78H771.05V321.82H774.90V321.84H778.74V321.86H782.58V321.87H786.42V321.88H790.26V321.89H797.95V321.89H813.31V321.90H821.00V321.90" stroke="#c6aaa5" stroke-width="1" fill="none" stroke-linejoin="miter"/>
<path d="M442.84 321.90H462.08V321.89H469.77V321.89H473.62V321.88H477.47V321.87H481.31V321.86H485.16V321.85H489.01V321.83H492.86V321.80H496.70V321.77H500.55V321.73H504.40V321.65H508.25V321.56H512.09V321.47H515.94V321.33H519.79V321.20H523.64V321.03H527.48V320.83H531.33V320.52H535.18V320.04H539.03V319.77H542.87V319.49H546.72V318.79H550.57V318.27H554.42V317.66H558.26V317.00H562.11V316.31H565.96V315.41H569.81V315.02H573.65V313.99H577.50V312.86H581.35V311.57H585.20V310.85H589.04V309.39H592.89V308.94H596.74V309.87H600.59V308.09H604.43V307.41H608.28V307.55H612.13V308.60H615.98V307.75H619.83V308.15H623.67V307.76H627.52V307.75H631.37V308.57H635.22V310.05H639.06V309.89H642.91V311.04H646.76V311.48H650.61V312.85H654.45V313.55H658.30V314.50H662.15V315.38H666.00V315.77H669.84V316.70H673.69V317.50H677.54V318.42H681.39V318.88H685.23V319.30H689.08V319.70H692.93V320.26H696.78V320.43H700.62V320.81H704.47V321.04H708.32V321.16H712.17V321.36H716.01V321.47H719.86V321.56H723.71V321.65H727.56V321.72H731.40V321.77H735.25V321.80H739.10V321.83H742.95V321.85H746.79V321.86H750.64V321.87H754.49V321.88H758.34V321.89H762.18V321.89H769.88V321.90H789.12V321.90" stroke="#ffbf86" stroke-width="1" fill="none" stroke-linejoin="miter"/>
<path d="M481.31 321.90H487.91V321.89H491.21V321.88H494.50V321.86H497.80V321.83H501.10V321.77H504.40V321.65H507.70V321.46H510.99V321.15H514.29V320.63H517.59V319.98H520.89V319.03H524.19V317.60H527.48V315.92H530.78V313.24H534.08V311.03H537.38V307.87H540.68V305.33H543.97V303.54H547.27V302.22H550.57V300.46H553.87V298.72H557.16V299.02H560.46V300.00H563.76V299.75H567.06V300.96H570.36V302.49H573.65V300.86H576.95V302.91H580.25V304.87H583.55V306.50H586.85V305.81H590.14V307.43H593.44V308.37H596.74V309.05H600.04V309.89H603.34V312.10H606.63V312.72H609.93V314.09H613.23V315.47H616.53V315.64H619.83V316.69H623.12V317.46H626.42V318.07H629.72V318.75H633.02V318.99H636.31V319.38H639.61V319.92H642.91V320.37H646.21V320.72H649.51V320.85H652.80V321.10H656.10V321.25H659.40V321.36H662.70V321.49H666.00V321.58H669.29V321.65H672.59V321.71H675.89V321.75H679.19V321.79H682.49V321.81H685.78V321.84H689.08V321.85H692.38V321.87H695.68V321.88H698.97V321.88H702.27V321.89H708.87V321.89H718.76V321.90H728.66V321.90" stroke="#ffbf86" stroke-width="1" fill="none" stroke-linejoin="miter"/>
<path d="M531.33 321.90H534.42V321.89H537.50V321.89H539.04V321.88H540.58V321.86H542.12V321.84H543.67V321.81H545.21V321.77H546.75V321.70H548.29V321.62H549.83V321.50H551.38V321.34H552.92V321.12H554.46V320.81H556.00V320.44H557.54V319.88H559.09V319.28H560.63V318.49H562.17V317.29H563.71V316.37H565.25V315.12H566.79V313.10H568.34V311.82H569.88V309.03H571.42V306.36H572.96V304.12H574.50V301.41H576.05V299.77H577.59V295.34H579.13V292.59H580.67V291.11H582.21V286.07H583.76V286.65H585.30V285.36H586.84V284.22H588.38V281.59H589.92V280.99H591.46V281.17H593.01V282.76H594.55V284.53H596.09V284.77H597.63V288.47H599.17V291.14H600.72V291.86H602.26V295.59H603.80V298.30H605.34V301.09H606.88V304.40H608.43V306.93H609.97V308.91H611.51V311.43H613.05V313.10H614.59V314.86H616.13V316.43H617.68V317.36H619.22V318.57H620.76V319.25H622.30V319.90H623.84V320.37H625.39V320.84H626.93V321.12H628.47V321.33H630.01V321.50H631.55V321.62H633.10V321.71H634.64V321.77H636.18V321.81H637.72V321.84H639.26V321.86H640.80V321.88H642.35V321.88H643.89V321.89H646.97V321.90H650.06V321.90" stroke="#8fbbda" stroke-width="1" fill="none" stroke-linejoin="miter"/>
<path d="M525.29 321.90V321.90H526.06V321.89H526.83V321.88H527.60V321.87H528.38V321.85H529.15V321.82H529.92V321.76H530.70V321.67H531.47V321.53H532.24V321.30H533.01V320.99H533.79V320.55H534.56V319.94H535.33V319.07H536.11V317.64H536.88V315.58H537.65V313.79H538.43V311.51H539.20V307.61H539.97V302.70H540.74V298.13H541.52V294.04H542.29V286.15H543.06V278.27H543.84V270.20H544.61V269.05H545.38V258.29H546.15V249.05H546.93V238.65H547.70V236.04H548.47V240.34H549.25V231.51H550.02V236.40H550.79V237.01H551.57V240.98H552.34V243.66H553.11V245.66H553.88V259.75H554.66V262.48H555.43V271.73H556.20V277.81H556.98V284.95H557.75V292.70H558.52V297.67H559.29V302.38H560.07V308.15H560.84V310.42H561.61V313.68H562.39V315.63H563.16V318.03H563.93V318.95H564.71V319.91H565.48V320.57H566.25V321.07H567.02V321.32H567.80V321.53H568.57V321.68H569.34V321.76H570.12V321.81H570.89V321.85H571.66V321.87H572.43V321.88H573.21V321.89H573.98V321.90H574.75V321.90" stroke="#cab3de" stroke-width="1" fill="none" stroke-linejoin="miter"/>
<path d="M434.59 321.90H443.39V321.89H447.78V321.89H449.98V321.88H452.18V321.87H454.38V321.86H456.58V321.84H458.78V321.81H460.98V321.79H463.17V321.74H465.37V321.69H467.57V321.63H469.77V321.51H471.97V321.42H474.17V321.23H476.37V321.03H478.56V320.76H480.76V320.55H482.96V320.13H485.16V319.73H487.36V319.09H489.56V318.37H491.76V317.94H493.96V317.40H496.15V316.42H498.35V315.28H500.55V314.63H502.75V312.25H504.95V310.81H507.15V310.72H509.35V308.71H511.54V307.61H513.74V305.77H515.94V304.10H518.14V304.11H520.34V301.77H522.54V302.76H524.74V301.17H526.93V298.72H529.13V300.70H531.33V300.69H533.53V300.48H535.73V300.56H537.93V300.30H540.13V301.07H542.32V301.56H544.52V302.94H546.72V303.99H548.92V305.27H551.12V306.52H553.32V308.13H555.52V308.74H557.71V308.98H559.91V311.89H562.11V312.72H564.31V314.33H566.51V315.53H568.71V316.76H570.91V316.94H573.10V317.92H575.30V318.78H577.50V319.14H579.70V319.54H581.90V320.17H584.10V320.56H586.30V320.83H588.50V321.03H590.69V321.17H592.89V321.40H595.09V321.50H597.29V321.63H599.49V321.70H601.69V321.75H603.89V321.79H606.08V321.82H608.28V321.84H610.48V321.86H612.68V321.87H614.88V321.88H617.08V321.89H619.28V321.89H623.67V321.90H632.47V321.90" stroke="#cab3de" stroke-width="1" fill="none" stroke-linejoin="miter"/>
<path d="M522.98 321.90V321.88H523.31V321.87H523.64V321.84H523.97V321.78H524.30V321.68H524.63V321.49H524.96V321.11H525.29V320.49H525.62V319.57H525.94V318.07H526.27V315.76H526.60V312.49H526.93V306.99H527.26V301.39H527.59V290.23H527.92V279.78H528.25V264.49H528.58V249.66H528.91V224.05H529.24V188.05H529.57V174.38H529.90V149.91H530.23V117.92H530.56V88.58H530.89V67.82H531.22V71.25H531.55V69.29H531.88V67.99H532.21V64.65H532.54V97.60H532.87V83.56H533.20V126.45H533.53V148.70H533.86V164.35H534.19V205.07H534.52V224.36H534.85V248.01H535.18V263.02H535.51V280.66H535.84V291.21H536.17V301.43H536.50V306.99H536.83V312.64H537.16V316.15H537.49V318.08H537.82V319.80H538.15V320.46H538.48V321.11H538.81V321.46H539.14V321.66H539.47V321.77H539.80V321.84H540.13V321.87H540.46V321.88H540.79V321.90" stroke="#c6aaa5" stroke-width="1" fill="none" stroke-linejoin="miter"/>
<path d="M466.47 321.90V315.59H468.67V314.85H470.87V313.41H473.07V312.99H475.27V310.51H477.47V310.00H479.66V308.26H481.86V306.70H484.06V305.59H486.26V304.23H488.46V304.02H490.66V301.86H492.86V300.98H495.05V299.42H497.25V301.01H499.45V299.20H501.65V297.37H503.85V296.41H506.05V296.66H508.25V297.62H510.44V297.60H512.64V298.42H514.84V302.17H517.04V301.84H519.24V303.77H521.44V305.80H523.64V307.37H525.83V310.27H528.03V311.58H530.23V313.53H532.43V315.18H534.63V316.68H536.83V317.77H539.03V318.68H541.23V319.72H543.42V320.37H545.62V320.77H547.82V321.06H550.02V321.37H552.22V321.55H554.42V321.68H556.62V321.76H558.81V321.81H561.01V321.84H563.21V321.87H565.41V321.88H567.61V321.89H569.81V321.89H574.20V321.90H734.70V321.90" stroke="#17becf" stroke-width="2" fill="none" stroke-linejoin="miter"/>
<path d="M465.65 321.90H466.53V321.90H468.28V321.89H469.16V321.89H470.04V321.88H470.92V321.87H471.80V321.86H472.68V321.84H473.56V321.82H474.44V321.78H475.31V321.74H476.19V321.68H477.07V321.60H477.95V321.49H478.83V321.39H479.71V321.17H480.59V320.98H481.47V320.67H482.34V320.29H483.22V319.96H484.10V319.22H484.98V318.81H485.86V317.76H486.74V316.83H487.62V315.89H488.49V314.20H489.37V313.29H490.25V311.95H491.13V309.45H492.01V307.88H492.89V305.05H493.77V302.24H494.65V298.37H495.52V297.06H496.40V293.70H497.28V289.89H498.16V286.48H499.04V284.62H499.92V279.92H500.80V280.22H501.68V276.74H502.55V274.65H503.43V271.84H504.31V268.17H505.19V268.05H506.07V265.12H506.95V269.77H507.83V268.31H508.71V267.04H509.58V271.77H510.46V276.07H511.34V283.29H512.22V284.30H513.10V291.92H513.98V295.36H514.86V301.57H515.74V305.48H516.61V308.18H517.49V312.56H518.37V315.02H519.25V316.84H520.13V318.60H521.01V319.49H521.89V320.30H522.76V320.88H523.64V321.27H524.52V321.50H525.40V321.67H526.28V321.76H527.16V321.82H528.04V321.86H528.92V321.88H529.79V321.89H530.67V321.89H532.43V321.90" stroke="#d62728" stroke-width="2" fill="none" stroke-linejoin="miter"/>
<path d="M453.28 321.90H455.48V321.90H457.68V321.89H458.78V321.89H459.88V321.88H460.98V321.87H462.08V321.86H463.17V321.84H464.27V321.83H465.37V321.79H466.47V321.75H467.57V321.72H468.67V321.63H469.77V321.57H470.87V321.47H471.97V321.32H473.07V321.13H474.17V320.89H475.27V320.52H476.37V320.42H477.47V319.96H478.57V319.41H479.66V318.93H480.76V318.44H481.86V317.43H482.96V316.47H484.06V315.31H485.16V314.33H486.26V312.38H487.36V311.29H488.46V309.35H489.56V308.54H490.66V307.68H491.76V303.48H492.86V301.64H493.96V299.14H495.05V297.40H496.15V295.67H497.25V293.45H498.35V289.82H499.45V290.09H500.55V287.68H501.65V285.72H502.75V283.81H503.85V279.80H504.95V283.22H506.05V277.87H507.15V281.48H508.25V282.50H509.35V285.47H510.44V287.12H511.54V290.77H512.64V298.40H513.74V302.43H514.84V306.97H515.94V310.97H517.04V314.26H518.14V316.37H519.24V318.22H520.34V319.62H521.44V320.56H522.54V321.10H523.64V321.44H524.74V321.66H525.83V321.77H526.93V321.84H528.03V321.87H529.13V321.89H530.23V321.89H532.43V321.90" stroke="#e377c2" stroke-width="2" fill="none" stroke-linejoin="miter"/>
<path d="M475.49 321.90H476.48V321.89H477.47V321.89H478.46V321.88H479.44V321.87H480.43V321.85H481.42V321.82H482.41V321.77H483.40V321.70H484.39V321.60H485.38V321.45H486.37V321.20H487.36V320.88H488.35V320.45H489.34V319.90H490.33V319.06H491.32V317.93H492.31V316.86H493.30V315.00H494.28V313.24H495.27V309.44H496.26V306.88H497.25V303.98H498.24V299.22H499.23V295.68H500.22V292.09H501.21V286.80H502.20V282.47H503.19V271.46H504.18V275.73H505.17V276.09H506.16V265.90H507.15V268.62H508.14V267.84H509.13V261.64H510.11V268.54H511.10V272.78H512.09V274.81H513.08V282.65H514.07V285.70H515.06V293.87H516.05V298.74H517.04V303.02H518.03V307.52H519.02V313.15H520.01V315.30H521.00V317.41H521.99V318.80H522.98V320.03H523.97V320.77H524.96V321.16H525.94V321.48H526.93V321.67H527.92V321.79H528.91V321.84H529.90V321.87H530.89V321.88H531.88V321.89H532.87V321.90H533.86V321.90" stroke="#1f77b4" stroke-width="2" fill="none" stroke-linejoin="miter"/>
<path d="M497.53 321.90V321.90H498.08V321.89H498.63V321.88H499.18V321.87H499.73V321.85H500.28V321.81H500.83V321.76H501.38V321.66H501.93V321.50H502.47V321.30H503.02V320.86H503.57V320.60H504.12V319.78H504.67V318.87H505.22V317.46H505.77V315.61H506.32V313.85H506.87V309.81H507.42V307.42H507.97V301.79H508.52V296.06H509.07V292.49H509.62V282.82H510.17V276.98H510.72V270.77H511.27V260.78H511.82V251.45H512.37V245.32H512.92V242.87H513.47V240.93H514.02V239.26H514.57V233.83H515.12V237.02H515.67V241.66H516.22V246.11H516.77V252.20H517.32V257.72H517.86V261.81H518.41V271.96H518.96V279.45H519.51V285.59H520.06V292.36H520.61V298.06H521.16V301.54H521.71V305.53H522.26V310.34H522.81V313.18H523.36V315.69H523.91V317.33H524.46V318.91H525.01V319.74H525.56V320.37H526.11V320.99H526.66V321.29H527.21V321.52H527.76V321.67H528.31V321.75H528.86V321.81H529.41V321.85H529.96V321.87H530.51V321.88H531.06V321.89H532.16V321.90" stroke="#bcbd22" stroke-width="2" fill="none" stroke-linejoin="miter"/>
<path d="M514.29 321.90H515.06V321.89H515.83V321.89H516.59V321.88H517.36V321.87H518.12V321.84H518.89V321.79H519.66V321.74H520.42V321.62H521.19V321.45H521.96V321.24H522.72V320.86H523.49V320.45H524.26V319.82H525.02V318.83H525.79V317.92H526.55V315.85H527.32V314.09H528.09V312.14H528.85V307.98H529.62V304.53H530.39V301.12H531.15V296.84H531.92V290.65H532.69V288.02H533.45V282.18H534.22V272.42H534.99V269.01H535.75V262.38H536.52V260.94H537.28V254.40H538.05V259.79H538.82V253.53H539.58V254.82H540.35V255.79H541.12V257.08H541.88V264.77H542.65V267.44H543.42V267.50H544.18V273.55H544.95V278.81H545.72V287.14H546.48V287.11H547.25V293.39H548.01V297.17H548.78V303.20H549.55V305.00H550.31V309.50H551.08V310.49H551.85V313.07H552.61V314.89H553.38V316.72H554.15V317.72H554.91V318.80H555.68V319.73H556.44V320.17H557.21V320.67H557.98V321.06H558.74V321.25H559.51V321.49H560.28V321.61H561.04V321.71H561.81V321.77H562.58V321.81H563.34V321.84H564.11V321.86H564.88V321.88H565.64V321.89H566.41V321.89H567.94V321.90H568.71V321.90" stroke="#2ca02c" stroke-width="2" fill="none" stroke-linejoin="miter"/>
<path d="M507.70 321.90V321.89H508.25V321.89H508.80V321.88H509.36V321.87H509.91V321.85H510.46V321.81H511.01V321.75H511.57V321.67H512.12V321.54H512.67V321.35H513.23V321.03H513.78V320.64H514.33V319.96H514.88V319.10H515.44V318.06H515.99V316.60H516.54V314.19H517.10V311.77H517.65V307.85H518.20V305.08H518.75V299.92H519.31V294.94H519.86V287.64H520.41V279.82H520.97V273.24H521.52V262.96H522.07V253.93H522.62V245.89H523.18V241.42H523.73V234.89H524.28V224.37H524.84V219.30H525.39V214.11H525.94V211.81H526.49V214.99H527.05V213.49H527.60V225.54H528.15V229.28H528.71V233.35H529.26V245.04H529.81V240.91H530.36V253.82H530.92V263.32H531.47V273.04H532.02V279.11H532.58V288.66H533.13V293.86H533.68V299.79H534.23V304.32H534.79V309.48H535.34V312.44H535.89V314.90H536.45V316.87H537.00V318.24H537.55V319.28H538.11V320.03H538.66V320.62H539.21V321.02H539.76V321.34H540.32V321.53H540.87V321.65H541.42V321.77H541.98V321.81H542.53V321.85H543.08V321.87H543.63V321.88H544.19V321.89H544.74V321.89H545.29V321.90" stroke="#7f7f7f" stroke-width="2" fill="none" stroke-linejoin="miter"/>
<path d="M500.55 321.90V321.89H501.65V321.88H502.20V321.87H502.75V321.85H503.30V321.83H503.85V321.78H504.40V321.72H504.95V321.61H505.50V321.49H506.05V321.25H506.60V320.90H507.15V320.59H507.70V319.96H508.25V319.01H508.80V318.13H509.35V316.31H509.90V314.95H510.44V312.63H510.99V309.16H511.54V306.03H512.09V301.12H512.64V296.40H513.19V292.55H513.74V283.12H514.29V277.29H514.84V269.44H515.39V262.40H515.94V259.93H516.49V249.85H517.04V237.85H517.59V237.86H518.14V234.81H518.69V224.25H519.24V218.80H519.79V214.13H520.34V216.44H520.89V220.45H521.44V221.34H521.99V227.58H522.54V234.25H523.09V236.37H523.64V248.89H524.19V254.54H524.74V266.62H525.29V272.45H525.83V278.66H526.38V284.19H526.93V291.20H527.48V297.39H528.03V301.79H528.58V306.77H529.13V308.90H529.68V312.92H530.23V314.80H530.78V316.45H531.33V318.25H531.88V319.20H532.43V319.90H532.98V320.40H533.53V320.98H534.08V321.24H534.63V321.49H535.18V321.61H535.73V321.72H536.28V321.79H536.83V321.83H537.38V321.86H537.93V321.87H538.48V321.88H539.03V321.89H539.58V321.89H540.13V321.90" stroke="#ff7f0e" stroke-width="2" fill="none" stroke-linejoin="miter"/>
<path d="M486.26 321.90H488.02V321.90H489.33V321.89H490.21V321.89H491.09V321.88H491.53V321.87H491.96V321.87H492.40V321.86H492.84V321.85H493.72V321.83H494.16V321.81H494.60V321.79H495.04V321.76H495.48V321.73H495.91V321.70H496.35V321.64H496.79V321.60H497.23V321.54H497.67V321.48H498.11V321.41H498.55V321.31H498.99V321.20H499.43V321.10H499.86V320.97H500.30V320.80H500.74V320.61H501.18V320.40H501.62V320.29H502.06V320.00H502.50V319.64H502.94V319.38H503.37V319.04H503.81V318.53H504.25V318.24H504.69V317.66H505.13V317.46H505.57V316.33H506.01V316.22H506.45V315.51H506.89V314.01H507.32V313.48H507.76V312.94H508.20V312.38H508.64V311.46H509.08V310.98H509.52V309.49H509.96V309.44H510.40V306.36H510.83V305.04H511.27V304.30H511.71V301.61H512.15V301.04H512.59V297.60H513.03V293.95H513.47V289.94H513.91V286.96H514.35V284.45H514.78V279.14H515.22V269.35H515.66V270.99H516.10V257.05H516.54V258.71H516.98V248.56H517.42V235.45H517.86V231.70H518.29V226.95H518.73V213.79H519.17V207.56H519.61V210.45H520.05V203.25H520.49V193.85H520.93V203.32H521.37V203.65H521.81V207.71H522.24V212.73H522.68V219.69H523.12V229.64H523.56V235.15H524.00V248.08H524.44V254.55H524.88V263.80H525.32V270.78H525.76V277.18H526.19V286.03H526.63V291.69H527.07V296.22H527.51V302.17H527.95V305.24H528.39V309.34H528.83V311.14H529.27V313.73H529.70V315.63H530.14V317.08H530.58V318.23H531.02V318.80H531.46V319.77H531.90V320.22H532.34V320.65H532.78V321.00H533.22V321.25H533.65V321.39H534.09V321.52H534.53V321.63H534.97V321.72H535.41V321.76H535.85V321.81H536.29V321.83H536.73V321.85H537.16V321.87H537.60V321.88H538.04V321.89H538.92V321.89H540.24V321.90H540.68V321.90" stroke="#d62728" stroke-width="2" fill="none" stroke-linejoin="miter"/>
<path d="M492.31 321.90H493.18V321.90H494.94V321.89H495.81V321.88H496.69V321.87H497.57V321.85H498.44V321.82H499.32V321.79H500.20V321.72H501.07V321.66H501.95V321.54H502.83V321.36H503.70V321.22H504.58V320.96H505.46V320.58H506.33V319.89H507.21V319.39H508.09V318.48H508.96V317.66H509.84V316.72H510.72V314.72H511.59V312.68H512.47V310.98H513.35V308.05H514.22V306.16H515.10V302.01H515.98V298.37H516.85V296.32H517.73V292.20H518.61V287.96H519.48V286.33H520.36V279.28H521.24V276.67H522.11V273.04H522.99V270.22H523.87V271.26H524.74V267.43H525.62V266.76H526.50V261.64H527.37V264.55H528.25V267.44H529.13V266.25H530.00V271.61H530.88V273.01H531.76V276.79H532.63V282.25H533.51V286.30H534.39V288.28H535.26V291.58H536.14V294.70H537.02V300.11H537.89V302.89H538.77V305.64H539.65V308.58H540.52V311.20H541.40V312.65H542.28V314.70H543.15V316.02H544.03V317.41H544.91V318.46H545.78V319.35H546.66V320.16H547.54V320.48H548.41V320.86H549.29V321.18H550.17V321.39H551.04V321.55H551.92V321.66H552.80V321.72H553.67V321.79H554.55V321.83H555.43V321.85H556.30V321.87H557.18V321.88H558.06V321.89H558.93V321.89H560.69V321.90H561.56V321.90" stroke="#17becf" stroke-width="2" fill="none" stroke-linejoin="miter"/>
<path d="M526.16 321.90V321.89H526.49V321.89H526.82V321.88H527.15V321.86H527.48V321.84H527.81V321.81H528.14V321.75H528.47V321.67H528.80V321.56H529.13V321.39H529.46V321.15H529.79V320.82H530.12V320.38H530.45V319.75H530.78V318.82H531.11V317.70H531.44V316.36H531.77V314.11H532.10V311.56H532.43V308.88H532.76V304.98H533.09V299.99H533.42V293.22H533.75V289.94H534.08V281.07H534.41V267.64H534.74V263.92H535.07V256.13H535.40V240.06H535.73V230.15H536.06V214.98H536.39V205.95H536.72V196.73H537.05V180.72H537.38V178.79H537.71V172.25H538.04V171.45H538.37V150.72H538.70V165.13H539.03V155.29H539.36V146.92H539.69V159.83H540.02V171.42H540.35V166.43H540.68V174.52H541.01V201.12H541.34V211.69H541.66V229.04H541.99V230.50H542.32V244.77H542.65V249.47H542.98V264.44H543.31V270.47H543.64V278.11H543.97V288.22H544.30V291.94H544.63V301.26H544.96V304.20H545.29V309.22H545.62V311.30H545.95V313.61H546.28V316.20H546.61V317.51H546.94V318.68H547.27V319.74H547.60V320.30H547.93V320.80H548.26V321.14H548.59V321.38H548.92V321.57H549.25V321.67H549.58V321.76H549.91V321.81H550.24V321.84H550.57V321.86H550.90V321.88H551.23V321.88H551.56V321.89H551.89V321.90" stroke="#9467bd" stroke-width="2" fill="none" stroke-linejoin="miter"/>
<path d="M525.36 321.90V321.89H525.58V321.87H525.80V321.85H526.02V321.83H526.24V321.79H526.46V321.72H526.68V321.61H526.90V321.46H527.12V321.13H527.34V320.81H527.57V320.22H527.79V319.47H528.01V318.29H528.23V316.96H528.45V315.14H528.67V311.76H528.89V309.02H529.11V304.82H529.33V297.45H529.55V292.49H529.77V284.31H530.00V269.04H530.22V258.53H530.44V247.09H530.66V231.82H530.88V218.32H531.10V187.42H531.32V171.61H531.54V146.26H531.76V122.85H531.98V117.03H532.21V82.80H532.43V74.25H532.65V59.31H532.87V71.74H533.09V41.47H533.31V50.07H533.53V55.01H533.75V54.59H533.97V69.98H534.19V81.41H534.41V101.48H534.64V118.14H534.86V132.20H535.08V140.75H535.30V182.48H535.52V205.82H535.74V212.94H535.96V226.66H536.18V247.01H536.40V265.89H536.62V273.95H536.84V284.01H537.07V293.64H537.29V297.84H537.51V304.00H537.73V309.42H537.95V312.01H538.17V315.11H538.39V316.68H538.61V318.36H538.83V319.35H539.05V320.29H539.27V320.78H539.50V321.21H539.72V321.44H539.94V321.60H540.16V321.71H540.38V321.79H540.60V321.83H540.82V321.86H541.04V321.88H541.26V321.89H541.48V321.90" stroke="#17becf" stroke-width="2" fill="none" stroke-linejoin="miter"/>
<path d="M518.96 321.90V321.88H519.19V321.87H519.41V321.85H519.63V321.82H519.85V321.76H520.07V321.64H520.29V321.47H520.51V321.19H520.74V320.85H520.96V320.20H521.18V319.34H521.40V318.10H521.62V316.18H521.84V313.78H522.07V309.67H522.29V305.52H522.51V300.48H522.73V291.52H522.95V281.53H523.17V275.01H523.39V256.56H523.62V241.15H523.84V222.45H524.06V207.12H524.28V186.41H524.50V146.89H524.72V120.63H524.94V94.60H525.17V92.50H525.39V75.35H525.61V51.33H525.83V29.92H526.05V17.14H526.27V19.41H526.50V23.90H526.72V36.25H526.94V54.09H527.16V57.00H527.38V98.34H527.60V93.31H527.82V135.14H528.05V168.60H528.27V176.81H528.49V200.37H528.71V218.34H528.93V238.32H529.15V258.10H529.37V269.46H529.60V283.95H529.82V292.18H530.04V301.31H530.26V306.41H530.48V310.57H530.70V314.21H530.93V316.10H531.15V317.75H531.37V319.42H531.59V320.29H531.81V320.92H532.03V321.23H532.25V321.49H532.48V321.65H532.70V321.76H532.92V321.81H533.14V321.85H533.36V321.87H533.58V321.88H533.80V321.90" stroke="#bcbd22" stroke-width="2" fill="none" stroke-linejoin="miter"/>
<path d="M504.67 321.90H513.47V321.89H514.02V321.88H514.57V321.83H515.12V321.72H515.67V321.49H516.22V320.97H516.77V320.07H517.32V318.32H517.86V316.07H518.41V311.77H518.96V307.77H519.51V301.98H520.06V291.47H520.61V282.61H521.16V271.82H521.71V260.24H522.26V256.89H522.81V245.06H523.36V236.39H523.91V226.50H524.46V227.79H525.01V223.36H525.56V228.47H526.11V216.45H526.66V223.41H527.21V219.14H527.76V223.41H528.31V223.40H528.86V228.73H529.41V229.70H529.96V234.24H530.51V242.43H531.06V253.05H531.61V261.77H532.16V269.93H532.71V284.87H533.26V291.26H533.80V300.78H534.35V307.32H534.90V312.50H535.45V316.04H536.00V318.26H536.55V320.11H537.10V320.98H537.65V321.51H538.20V321.74H538.75V321.83H539.30V321.88H539.85V321.89H540.40V321.90H549.20V321.90" stroke="#e377c2" stroke-width="2" fill="none" stroke-linejoin="miter"/>
<path d="M514.90 321.90H521.45V321.89H522.00V321.88H522.55V321.87H523.09V321.82H523.64V321.73H524.19V321.59H524.73V321.30H525.28V320.82H525.83V320.17H526.37V319.01H526.92V317.49H527.47V315.12H528.01V311.55H528.56V306.73H529.10V301.27H529.65V295.67H530.20V290.03H530.74V279.33H531.29V268.58H531.84V260.57H532.38V251.15H532.93V238.29H533.48V232.14H534.02V231.76H534.57V234.79H535.12V218.03H535.66V222.73H536.21V217.61H536.76V223.24H537.30V218.11H537.85V223.54H538.39V219.51H538.94V226.28H539.49V228.14H540.03V233.75H540.58V234.82H541.13V241.77H541.67V248.96H542.22V259.79H542.77V265.84H543.31V275.70H543.86V282.09H544.41V288.57H544.95V295.40H545.50V300.16H546.04V306.28H546.59V310.60H547.14V313.99H547.68V316.12H548.23V318.16H548.78V319.29H549.32V320.47H549.87V320.97H550.42V321.37H550.96V321.60H551.51V321.73H552.06V321.81H552.60V321.85H553.15V321.88H553.70V321.89H554.24V321.90H555.88V321.90H561.89V321.90" stroke="#1f77b4" stroke-width="2" fill="none" stroke-linejoin="miter"/>
<path d="M480.76 321.90V321.89H482.74V321.88H484.71V321.87H486.68V321.85H488.66V321.82H490.63V321.78H492.61V321.72H494.58V321.60H496.55V321.50H498.53V321.34H500.50V321.08H502.47V320.73H504.45V320.30H506.42V319.61H508.40V319.09H510.37V318.44H512.34V316.87H514.32V315.84H516.29V314.37H518.26V313.06H520.24V311.43H522.21V308.17H524.19V307.79H526.16V305.13H528.13V303.44H530.11V299.24H532.08V298.27H534.05V297.61H536.03V294.81H538.00V292.47H539.98V295.12H541.95V294.95H543.92V293.74H545.90V294.41H547.87V296.63H549.84V297.06H551.82V297.62H553.79V298.17H555.77V301.74H557.74V301.54H559.71V303.37H561.69V304.07H563.66V308.52H565.63V308.92H567.61V310.50H569.58V311.18H571.56V313.60H573.53V314.62H575.50V315.54H577.48V316.49H579.45V317.44H581.42V318.49H583.40V318.75H585.37V319.62H587.35V319.99H589.32V320.36H591.29V320.76H593.27V320.99H595.24V321.26H597.21V321.38H599.19V321.52H601.16V321.63H603.14V321.69H605.11V321.75H607.08V321.78H609.06V321.82H611.03V321.85H613.00V321.86H614.98V321.87H616.95V321.88H618.93V321.89H620.90V321.89H624.85V321.90H638.66V321.90H654.45V321.90" stroke="#ff7f0e" stroke-width="2" fill="none" stroke-linejoin="miter"/></g>
<rect x="38.95" y="0.40" width="331.05" height="322.40" fill="none" stroke="#000" stroke-width="0.9"/>
<line x1="72.00" y1="322.80" x2="72.00" y2="326.30" stroke="#000" stroke-width="0.9"/>
<text transform="translate(72.00,336.6) scale(1.120,1)" text-anchor="middle" class="tk">−4</text>
<line x1="138.25" y1="322.80" x2="138.25" y2="326.30" stroke="#000" stroke-width="0.9"/>
<text transform="translate(138.25,336.6) scale(1.120,1)" text-anchor="middle" class="tk">−2</text>
<line x1="204.50" y1="322.80" x2="204.50" y2="326.30" stroke="#000" stroke-width="0.9"/>
<text transform="translate(204.50,336.6) scale(1.000,1)" text-anchor="middle" class="tk">0</text>
<line x1="270.75" y1="322.80" x2="270.75" y2="326.30" stroke="#000" stroke-width="0.9"/>
<text transform="translate(270.75,336.6) scale(1.000,1)" text-anchor="middle" class="tk">2</text>
<line x1="337.00" y1="322.80" x2="337.00" y2="326.30" stroke="#000" stroke-width="0.9"/>
<text transform="translate(337.00,336.6) scale(1.000,1)" text-anchor="middle" class="tk">4</text>
<line x1="35.45" y1="322.80" x2="38.95" y2="322.80" stroke="#000" stroke-width="0.9"/>
<text x="31.80" y="326.80" text-anchor="end" class="tk">0.0</text>
<line x1="35.45" y1="271.75" x2="38.95" y2="271.75" stroke="#000" stroke-width="0.9"/>
<text x="31.80" y="275.75" text-anchor="end" class="tk">0.5</text>
<line x1="35.45" y1="220.70" x2="38.95" y2="220.70" stroke="#000" stroke-width="0.9"/>
<text x="31.80" y="224.70" text-anchor="end" class="tk">1.0</text>
<line x1="35.45" y1="169.65" x2="38.95" y2="169.65" stroke="#000" stroke-width="0.9"/>
<text x="31.80" y="173.65" text-anchor="end" class="tk">1.5</text>
<line x1="35.45" y1="118.60" x2="38.95" y2="118.60" stroke="#000" stroke-width="0.9"/>
<text x="31.80" y="122.60" text-anchor="end" class="tk">2.0</text>
<line x1="35.45" y1="67.55" x2="38.95" y2="67.55" stroke="#000" stroke-width="0.9"/>
<text x="31.80" y="71.55" text-anchor="end" class="tk">2.5</text>
<line x1="35.45" y1="16.50" x2="38.95" y2="16.50" stroke="#000" stroke-width="0.9"/>
<text x="31.80" y="20.50" text-anchor="end" class="tk">3.0</text>
<rect x="423.60" y="1.50" width="329.80" height="320.90" fill="none" stroke="#000" stroke-width="0.9"/>
<line x1="423.60" y1="322.40" x2="423.60" y2="325.90" stroke="#000" stroke-width="0.9"/>
<text transform="translate(423.60,336.6) scale(1.000,1)" text-anchor="middle" class="tk">0.0</text>
<line x1="478.57" y1="322.40" x2="478.57" y2="325.90" stroke="#000" stroke-width="0.9"/>
<text transform="translate(478.57,336.6) scale(1.000,1)" text-anchor="middle" class="tk">0.5</text>
<line x1="533.53" y1="322.40" x2="533.53" y2="325.90" stroke="#000" stroke-width="0.9"/>
<text transform="translate(533.53,336.6) scale(1.000,1)" text-anchor="middle" class="tk">1.0</text>
<line x1="588.50" y1="322.40" x2="588.50" y2="325.90" stroke="#000" stroke-width="0.9"/>
<text transform="translate(588.50,336.6) scale(1.000,1)" text-anchor="middle" class="tk">1.5</text>
<line x1="643.46" y1="322.40" x2="643.46" y2="325.90" stroke="#000" stroke-width="0.9"/>
<text transform="translate(643.46,336.6) scale(1.000,1)" text-anchor="middle" class="tk">2.0</text>
<line x1="698.43" y1="322.40" x2="698.43" y2="325.90" stroke="#000" stroke-width="0.9"/>
<text transform="translate(698.43,336.6) scale(1.000,1)" text-anchor="middle" class="tk">2.5</text>
<line x1="753.39" y1="322.40" x2="753.39" y2="325.90" stroke="#000" stroke-width="0.9"/>
<text transform="translate(753.39,336.6) scale(1.000,1)" text-anchor="middle" class="tk">3.0</text>
<line x1="420.10" y1="322.40" x2="423.60" y2="322.40" stroke="#000" stroke-width="0.9"/>
<text x="417.20" y="326.40" text-anchor="end" class="tk">0</text>
<line x1="420.10" y1="264.46" x2="423.60" y2="264.46" stroke="#000" stroke-width="0.9"/>
<text x="417.20" y="268.46" text-anchor="end" class="tk">5</text>
<line x1="420.10" y1="206.52" x2="423.60" y2="206.52" stroke="#000" stroke-width="0.9"/>
<text x="417.20" y="210.52" text-anchor="end" class="tk">10</text>
<line x1="420.10" y1="148.58" x2="423.60" y2="148.58" stroke="#000" stroke-width="0.9"/>
<text x="417.20" y="152.58" text-anchor="end" class="tk">15</text>
<line x1="420.10" y1="90.64" x2="423.60" y2="90.64" stroke="#000" stroke-width="0.9"/>
<text x="417.20" y="94.64" text-anchor="end" class="tk">20</text>
<line x1="420.10" y1="32.70" x2="423.60" y2="32.70" stroke="#000" stroke-width="0.9"/>
<text x="417.20" y="36.70" text-anchor="end" class="tk">25</text>
<text transform="translate(168.73,352.60) scale(0.9355,1)" style="font-family:'Liberation Sans',sans-serif;font-size:15.30px;" fill="#000">Δ</text>
<text transform="translate(178.31,352.60) scale(1.2683,1)" style="font-family:'Liberation Sans',sans-serif;font-size:15.30px;font-style:italic;" fill="#000">t</text>
<text transform="translate(188.05,352.60) scale(1.1892,1)" style="font-family:'Liberation Sans',sans-serif;font-size:15.30px;" fill="#000">−</text>
<text transform="translate(202.52,352.60) scale(0.9677,1)" style="font-family:'Liberation Sans',sans-serif;font-size:15.30px;" fill="#000">Δ</text>
<text transform="translate(212.45,352.60) scale(1.2195,1)" style="font-family:'Liberation Sans',sans-serif;font-size:15.30px;font-style:italic;" fill="#000">t</text>
<text transform="translate(218.59,355.00) scale(1.0659,1)" style="font-family:'Liberation Sans',sans-serif;font-size:11.00px;" fill="#000">true</text>
<text transform="translate(566.30,352.30) scale(1.0000,1)" style="font-family:'Liberation Sans',sans-serif;font-size:15.30px;font-style:italic;" fill="#000">μ</text>
<text transform="translate(575.20,352.30) scale(1.0714,1)" style="font-family:'Liberation Sans',sans-serif;font-size:15.30px;" fill="#000">/</text>
<text transform="translate(580.71,352.30) scale(1.0238,1)" style="font-family:'Liberation Sans',sans-serif;font-size:15.30px;font-style:italic;" fill="#000">μ</text>
<text transform="translate(589.38,354.90) scale(1.0879,1)" style="font-family:'Liberation Sans',sans-serif;font-size:11.00px;" fill="#000">true</text>
<text transform="translate(11.25,229.50) rotate(-90) scale(1.2176,1)" style="font-family:'Liberation Sans',sans-serif;font-size:14.00px" fill="#000">probability density</text>
<text transform="translate(399.10,229.39) rotate(-90) scale(1.2077,1)" style="font-family:'Liberation Sans',sans-serif;font-size:14.00px" fill="#000">probability density</text>
</svg>
</body></html>
